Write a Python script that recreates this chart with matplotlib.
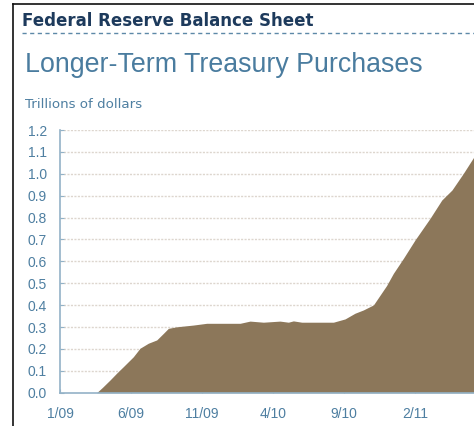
import matplotlib
matplotlib.use("Agg")
import matplotlib.pyplot as plt
from matplotlib.lines import Line2D

# Months since Jan 2009 (0 = 1/09) and holdings in trillions of dollars
months = [2.58, 3.0, 3.52, 4.0, 4.46, 5.16, 5.63, 6.22, 6.81, 7.28, 7.63, 8.22,
          9.39, 10.33, 11.97, 12.68, 13.38, 14.32, 15.49, 16.08, 16.43, 17.02,
          18.2, 19.25, 20.07, 20.77, 21.36, 22.07, 22.54, 23.0, 23.47, 24.18,
          25.0, 26.06, 26.88, 27.6, 28.4, 29.15]
values = [0.0, 0.025, 0.058, 0.09, 0.119, 0.164, 0.203, 0.226, 0.241, 0.271, 0.294, 0.301,
          0.309, 0.317, 0.317, 0.317, 0.327, 0.322, 0.327, 0.322, 0.328, 0.322,
          0.322, 0.322, 0.337, 0.363, 0.378, 0.401, 0.446, 0.49, 0.545, 0.614,
          0.698, 0.797, 0.880, 0.926, 1.002, 1.078]

xtick_pos = [0, 5, 10, 15, 20, 25]
xtick_labels = ["1/09", "6/09", "11/09", "4/10", "9/10", "2/11"]
ytick_pos = [0.0, 0.1, 0.2, 0.3, 0.4, 0.5, 0.6, 0.7, 0.8, 0.9, 1.0, 1.1, 1.2]

W, H = 474, 426
fig = plt.figure(figsize=(W / 100, H / 100), dpi=100)
fig.patch.set_facecolor("white")

left_px, right_px, top_px, bottom_px = 60, 474, 130, 392.7
ax = fig.add_axes([left_px / W, 1 - bottom_px / H,
                   (right_px - left_px) / W, (bottom_px - top_px) / H])

fill_color = "#8c775a"
ax.fill_between(months, values, 0, color=fill_color, linewidth=0, zorder=3)

ax.set_xlim(0, 29.15)
ax.set_ylim(0, 1.2)

for yv in ytick_pos[1:]:
    ax.axhline(yv, color="#ddd6ce", linewidth=1.0, linestyle=(0, (1.5, 1)), zorder=1)

axis_color = "#93b2c7"
for s in ["top", "right"]:
    ax.spines[s].set_visible(False)
for s in ["left", "bottom"]:
    ax.spines[s].set_color(axis_color)
    ax.spines[s].set_linewidth(1.2)
    ax.spines[s].set_zorder(4)

tick_color = "#4e7fa1"
font = "Liberation Sans"
ax.set_xticks(xtick_pos)
ax.set_xticklabels(xtick_labels, fontsize=10, color=tick_color, family=font)
ax.set_yticks(ytick_pos)
ax.set_yticklabels([f"{v:.1f}" for v in ytick_pos], fontsize=10, color=tick_color, family=font)
ax.tick_params(axis="x", direction="in", length=3, color=axis_color, pad=10)
ax.tick_params(axis="y", direction="in", length=3, color=axis_color, pad=9.4)

# Header texts
fig.text(22 / W, 1 - 26 / H, "Federal Reserve Balance Sheet", fontsize=12.0,
         fontweight="bold", color="#1d3a5c", family="DejaVu Sans", va="baseline", ha="left")
fig.add_artist(Line2D([22 / W, 1.0], [1 - 33 / H, 1 - 33 / H], color="#5d89a8",
                      linewidth=1.0, linestyle=(0, (3, 2.5))))
fig.text(25 / W, 1 - 72 / H, "Longer-Term Treasury Purchases", fontsize=19.3,
         color="#4a7c9f", family=font, va="baseline", ha="left")
fig.text(25 / W, 1 - 108 / H, "Trillions of dollars", fontsize=9.6,
         color="#4e7fa1", family="DejaVu Sans", va="baseline", ha="left")

# Frame border (left and top)
fig.add_artist(Line2D([13 / W, 13 / W], [0, 1 - 4 / H], color="#111111", linewidth=1.2))
fig.add_artist(Line2D([13 / W, 1.0], [1 - 4 / H, 1 - 4 / H], color="#111111", linewidth=1.2))

fig.savefig("out.png", dpi=100, facecolor="white")
